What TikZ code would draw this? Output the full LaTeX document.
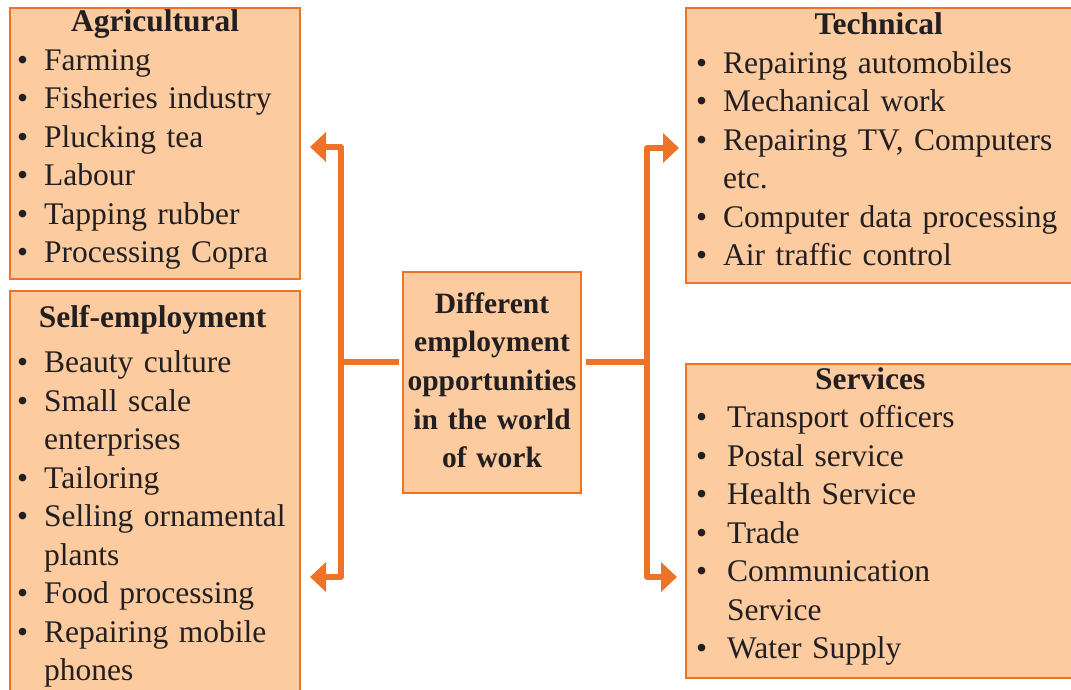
\documentclass[tikz,border=0pt]{standalone}
\usepackage{fontspec}
\setmainfont{Liberation Serif}
\usetikzlibrary{arrows.meta}

\definecolor{boxfill}{HTML}{FCCB9F}
\definecolor{boxline}{HTML}{EE7326}
\definecolor{ink}{HTML}{231F20}

% one bulleted entry, wrapped lines hang under the text
\newlength{\bulind}
\newlength{\txtind}
\newcommand{\itm}[1]{\par\hangindent=\txtind\hangafter=1
  \noindent\makebox[\txtind][l]{\hspace{\bulind}\textbullet}#1\par}

\begin{document}
\hyphenpenalty=10000
\begin{tikzpicture}[x=1pt, y=-1pt,
    box/.style={draw=boxline, fill=boxfill, line width=2.6pt, anchor=north west,
                inner sep=0pt, outer sep=0pt},
    list/.style={anchor=base west, inner sep=0pt, align=left, text=ink,
                 font=\fontsize{31.5}{38.5}\selectfont},
    conn/.style={draw=boxline, line width=5.5pt, line join=round},
    tip/.style={-{Triangle[length=16pt, width=29pt]}},
]
\clip (0,0) rectangle (1071,690);

% boxes
\node[box, minimum width=290pt, minimum height=271pt] (agri) at (10,8) {};
\node[box, minimum width=290pt, minimum height=420pt] (self) at (10,291) {};
\node[box, minimum width=178pt, minimum height=221pt] (centre) at (403,272) {};
\node[box, minimum width=400pt, minimum height=275pt] (tech) at (686,8) {};
\node[box, minimum width=400pt, minimum height=314pt] (serv) at (686,364) {};

% Agricultural
\setlength{\bulind}{7pt}\setlength{\txtind}{34pt}
\node[list, text width=290pt] (agritxt) at (10,32) {%
  \centerline{\bfseries Agricultural}
  \itm{Farming}
  \itm{Fisheries industry}
  \itm{Plucking tea}
  \itm{Labour}
  \itm{Tapping rubber}
  \itm{Processing Copra}};

% Self-employment
\node[list, text width=285pt] (selftxt) at (10,327) {%
  \centerline{\bfseries Self-employment}\par\vspace{7pt}
  \itm{Beauty culture}
  \itm{Small scale enterprises}
  \itm{Tailoring}
  \itm{Selling ornamental plants}
  \itm{Food processing}
  \itm{Repairing mobile phones}};

% centre
\node[list, anchor=base, text width=178pt, align=center,
      font=\fontsize{29.5}{38.7}\selectfont\bfseries]
  (centretxt) at (492,313) {Different\\employment\\opportunities\\in the world\\of work};

% Technical
\setlength{\bulind}{10pt}\setlength{\txtind}{37pt}
\node[list, text width=385pt] (techtxt) at (686,35) {%
  \centerline{\bfseries Technical}
  \itm{Repairing automobiles}
  \itm{Mechanical work}
  \itm{Repairing TV, Computers etc.}
  \itm{Computer data processing}
  \itm{Air traffic control}};

% Services
\setlength{\txtind}{41pt}
\node[list, text width=270pt] (servtxt) at (686,389) {%
  \hspace*{49pt}\makebox[270pt][c]{\bfseries Services}
  \itm{Transport officers}
  \itm{Postal service}
  \itm{Health Service}
  \itm{Trade}
  \itm{Communication Service}
  \itm{Water Supply}};

% connectors
\coordinate (lfork) at (341,362);
\coordinate (ltop) at (341,147);
\coordinate (lbot) at (341,577);
\coordinate (rfork) at (647,362);
\coordinate (rtop) at (647,148);
\coordinate (rbot) at (647,577);

\draw[conn, shorten <=4pt] (centre.west |- lfork) -- (lfork);
\draw[conn, tip, shorten >=10pt] (lfork) -- (ltop) -- (agri.east |- ltop);
\draw[conn, tip, shorten >=10pt] (lfork) -- (lbot) -- (self.east |- lbot);
\draw[conn, shorten <=5pt] (centre.east |- rfork) -- (rfork);
\draw[conn, tip, shorten >=7pt] (rfork) -- (rtop) -- (tech.west |- rtop);
\draw[conn, tip, shorten >=9pt] (rfork) -- (rbot) -- (serv.west |- rbot);
\end{tikzpicture}
\end{document}
